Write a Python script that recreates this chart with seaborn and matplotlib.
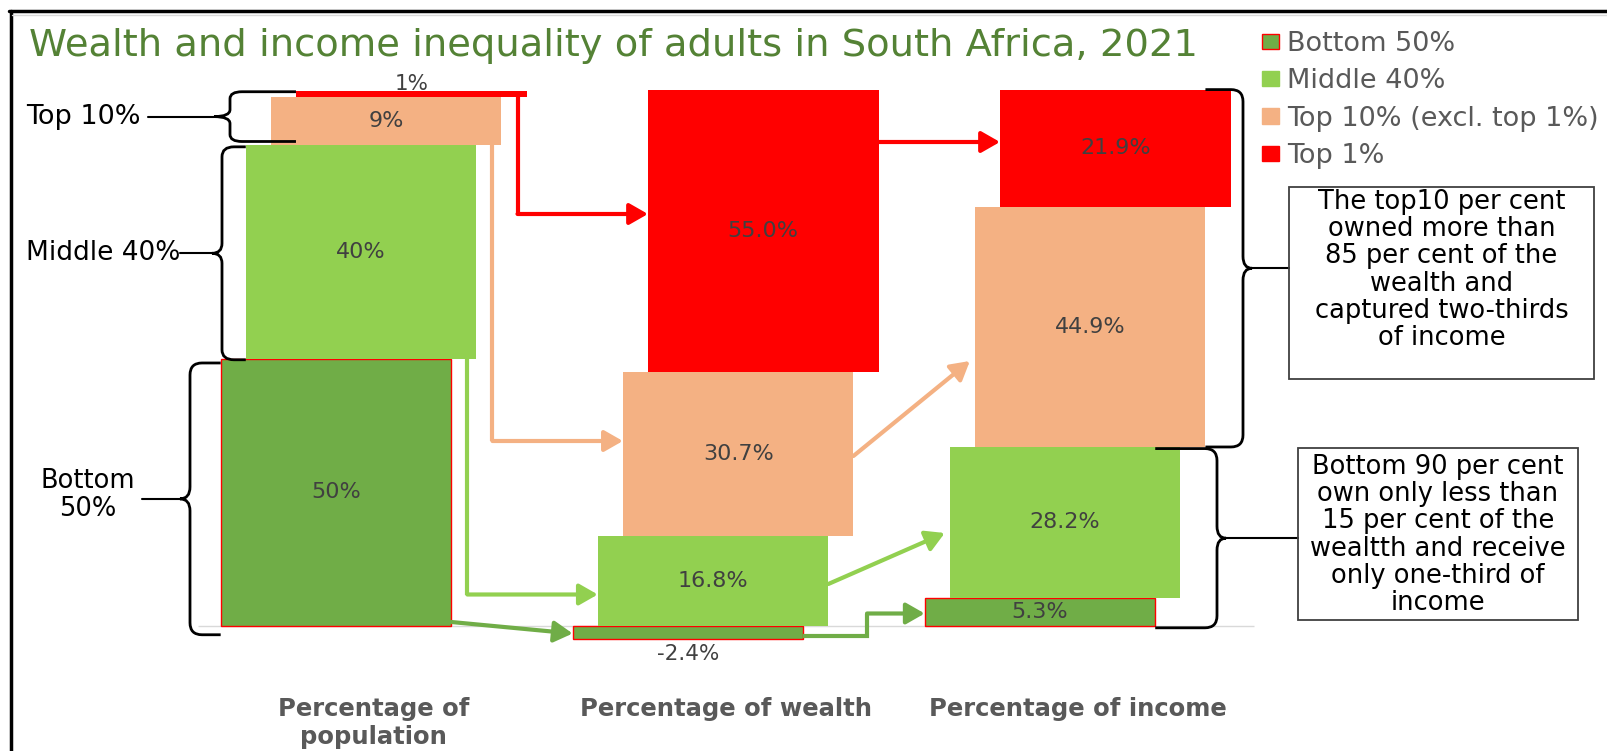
import numpy as np
import pandas as pd
import matplotlib
matplotlib.use("Agg")
import matplotlib.pyplot as plt
import seaborn as sns
from matplotlib.patches import Patch, Rectangle, PathPatch
from matplotlib.path import Path
from matplotlib.lines import Line2D

# data
categories = ["Percentage of\npopulation", "Percentage of wealth", "Percentage of income"]
groups = ["Bottom 50%", "Middle 40%", "Top 10% (excl. top 1%)", "Top 1%"]
bottom_50 = [50.0, -2.4, 5.3]
middle_40 = [40.0, 16.8, 28.2]
top_10 = [9.0, 30.7, 44.9]
top_1 = [1.0, 55.0, 21.9]
value_labels = [
    ["50%", "-2.4%", "5.3%"],
    ["40%", "16.8%", "28.2%"],
    ["9%", "30.7%", "44.9%"],
    ["1%", "55.0%", "21.9%"],
]
colors = ["#70AD47", "#92D050", "#F4B183", "#FF0000"]
axis_max = 100.3  # value axis max of the original chart (tall bars get cut here)

title = "Wealth and income inequality of adults in South Africa, 2021"
note_top = "The top10 per cent\nowned more than\n85 per cent of the\nwealth and\ncaptured two-thirds\nof income"
note_bottom = "Bottom 90 per cent\nown only less than\n15 per cent of the\nwealtth and receive\nonly one-third of\nincome"

sns.set_theme(style="white")
plt.rcParams["font.family"] = ["DejaVu Sans"]

W, H = 1607, 751
fig = plt.figure(figsize=(W / 100, H / 100), dpi=100)
ax = fig.add_axes([0, 0, 1, 1])

# pixel -> data helpers (layout only)
X0, SX = 373.6, 352.0
Y0, SY = 626.2, 5.35
def px(x):
    return (x - X0) / SX
def py(y):
    return (Y0 - y) / SY

ax.set_xlim(px(0), px(W))
ax.set_ylim(py(H), py(0))
ax.axis("off")

values = np.array([bottom_50, middle_40, top_10, top_1])
pos = np.clip(values, 0, None)
bases = np.vstack([np.zeros(3), np.cumsum(pos, axis=0)[:-1]])
bases = np.where(values < 0, 0, bases)

n_cat = len(categories)
width = 0.655
offset = 0.0713
xs = np.arange(n_cat)
centers = np.array([xs + (j - 1.5) * offset for j in range(len(groups))])
lefts = centers - width / 2
rights = centers + width / 2

ax.hlines(0, -0.5, 2.5, colors="#D9D9D9", lw=1, zorder=0)

clip = Rectangle((px(0), py(H)), px(W) - px(0), axis_max - py(H), transform=ax.transData)
for j, g in enumerate(groups):
    edge = "#FF0000" if j == 0 else colors[j]
    bars = ax.bar(centers[j], values[j], width=width, bottom=bases[j], color=colors[j],
                  edgecolor=edge, linewidth=1 if j == 0 else 0, zorder=2)
    for b in bars:
        b.set_clip_path(clip)

# value labels
for j in range(len(groups)):
    for i in range(n_cat):
        v = values[j, i]
        b = bases[j, i]
        if j == 3 and i == 0:
            ax.text(centers[j, i], b + v - 0.6, value_labels[j][i], ha="center", va="bottom",
                    fontsize=15.5, color="#404040", zorder=5)
        elif v < 0:
            ax.text(centers[j, i], v - 0.9, value_labels[j][i], ha="center", va="top",
                    fontsize=15.5, color="#404040", zorder=5)
        else:
            top = min(b + v, axis_max)
            ax.text(centers[j, i], (b + top) / 2, value_labels[j][i], ha="center", va="center",
                    fontsize=16, color="#404040", zorder=5)

# category labels
for i, c in enumerate(categories):
    ax.text(xs[i], py(697), c, ha="center", va="top", fontsize=17.5, fontweight="bold",
            color="#595959", linespacing=1.2)

# flow arrows
def flow(points, color):
    pts = np.array(points)
    if len(pts) > 2:
        ax.plot(pts[:-1, 0], pts[:-1, 1], color=color, lw=3, solid_joinstyle="miter",
                solid_capstyle="butt", zorder=3)
    ax.annotate("", xy=pts[-1], xytext=pts[-2], zorder=3,
                arrowprops=dict(arrowstyle="-|>,head_length=0.7,head_width=0.4", color=color,
                                lw=3, shrinkA=0, shrinkB=0, mutation_scale=16))

gap = 9 / SX
xv = rights[3, 0] - gap
flow([(xv, bases[3, 0]), (xv, py(214)), (lefts[3, 1], py(214))], colors[3])
flow([(rights[3, 1], py(142)), (lefts[3, 2], py(142))], colors[3])
xv = rights[2, 0] - gap
flow([(xv, bases[2, 0]), (xv, py(441)), (lefts[2, 1], py(441))], colors[2])
flow([(rights[2, 1], py(456)), (lefts[2, 2] - 5 / SX, py(361))], colors[2])
xv = rights[1, 0] - gap
flow([(xv, bases[1, 0]), (xv, py(594.5)), (lefts[1, 1], py(594.5))], colors[1])
flow([(rights[1, 1], py(584)), (lefts[1, 2] - 5 / SX, py(533))], colors[1])
flow([(rights[0, 0], py(622)), (lefts[0, 1], py(633.5))], colors[0])
flow([(rights[0, 1], py(636)), (px(867), py(636)), (px(867), py(613.5)),
      (lefts[0, 2], py(613.5))], colors[0])

# curly braces
def brace(x_spine, y_lo, y_hi, x_tip, x_end, ry, y_tip=None):
    ym = (y_lo + y_hi) / 2 if y_tip is None else y_tip
    c = np.sign(x_end - x_spine) * min(abs(x_end - x_spine), 12 / SX)
    verts = [(x_end, y_hi), (x_spine + c, y_hi), (x_spine, y_hi), (x_spine, y_hi - ry),
             (x_spine, ym + ry), (x_spine, ym), (x_tip, ym), (x_spine, ym), (x_spine, ym - ry),
             (x_spine, y_lo + ry), (x_spine, y_lo), (x_spine + c, y_lo), (x_end, y_lo)]
    codes = [Path.MOVETO, Path.LINETO, Path.CURVE3, Path.CURVE3, Path.LINETO, Path.CURVE3,
             Path.CURVE3, Path.CURVE3, Path.CURVE3, Path.LINETO, Path.CURVE3, Path.CURVE3,
             Path.LINETO]
    ax.add_patch(PathPatch(Path(verts, codes), fill=False, edgecolor="black", lw=2, zorder=4))
    return ym

pop_top = bases[3, 0] + values[3, 0]
ym = brace(px(230), bases[2, 0] + 0.6, pop_top - 0.1, px(214), lefts[3, 0], 7 / SY)
ax.plot([px(148), px(214)], [ym, ym], color="black", lw=1.5)
ax.text(px(26), ym, "Top 10%", ha="left", va="center", fontsize=19.5, color="black")

ym = brace(px(222), bases[1, 0] - 0.2, bases[2, 0] - 0.4, px(212), lefts[1, 0], 10 / SY)
ax.plot([px(180), px(212)], [ym, ym], color="black", lw=1.5)
ax.text(px(26), ym, "Middle 40%", ha="left", va="center", fontsize=19, color="black")

ym = brace(px(190), -1.6, bases[1, 0] - 0.8, px(180), lefts[0, 0], 12 / SY)
ax.plot([px(142), px(180)], [ym, ym], color="black", lw=1.5)
ax.text(px(88), ym + 0.8, "Bottom\n50%", ha="center", va="center", fontsize=18.5,
        color="black", linespacing=1.1)

inc_top = bases[3, 2] + values[3, 2]
ym = brace(px(1243), bases[2, 2], inc_top, px(1252), rights[2, 2], 12 / SY)
ax.plot([px(1252), px(1289)], [ym, ym], color="black", lw=1.5)
ym = brace(px(1217), -0.3, bases[2, 2] - 0.3, px(1226), rights[0, 2], 12 / SY)
ax.plot([px(1226), px(1298)], [ym, ym], color="black", lw=1.5)

# note boxes
for (x0, y0, x1, y1), txt, yc in [((1289, 187, 1594, 379), note_top, 270),
                                  ((1298, 448, 1578, 620), note_bottom, 535)]:
    ax.add_patch(Rectangle((px(x0), py(y1)), px(x1) - px(x0), py(y0) - py(y1), fill=False,
                           edgecolor="#404040", lw=1.3, zorder=4))
    ax.text((px(x0) + px(x1)) / 2, py(yc), txt, ha="center", va="center",
            fontsize=18.5, color="black", linespacing=1.06)

# title
ax.text(px(29), py(46), title, ha="left", va="center", fontsize=27.7, color="#548235")

# legend
handles = [Patch(facecolor=colors[j], edgecolor="#FF0000" if j == 0 else colors[j],
                 linewidth=1) for j in range(len(groups))]
fig.legend(handles, groups, loc="upper left", bbox_to_anchor=(1262 / W, 1 - 31 / H),
           frameon=False, fontsize=19.5, labelcolor="#595959", handlelength=0.62,
           handleheight=0.5, handletextpad=0.3, labelspacing=0.42, borderpad=0,
           borderaxespad=0)

# outer frame
fig.add_artist(Line2D([9 / W, 1], [1 - 11 / H, 1 - 11 / H], color="black", lw=2.5))
fig.add_artist(Line2D([11 / W, 11 / W], [0, 1 - 11 / H], color="black", lw=2.5))
fig.add_artist(Line2D([12 / W, 1], [1 - 15 / H, 1 - 15 / H], color="#D9D9D9", lw=1))

fig.savefig("out.png", dpi=100)
